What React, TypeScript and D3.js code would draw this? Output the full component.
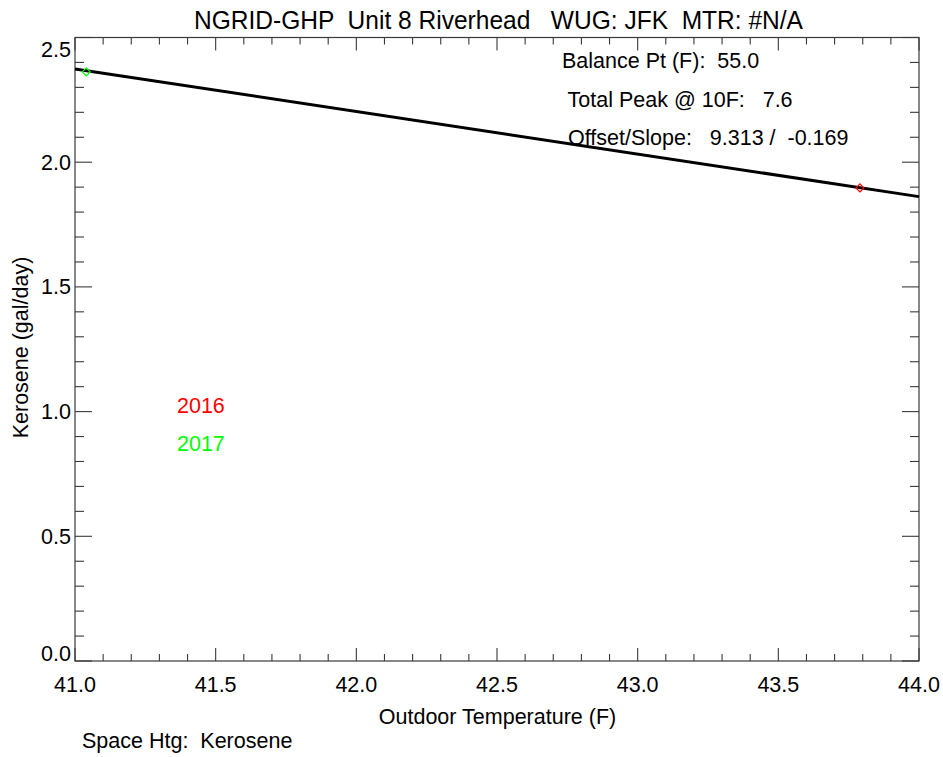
import React from "react";
import * as d3 from "d3";

const titleText = "NGRID-GHP  Unit 8 Riverhead   WUG: JFK  MTR: #N/A";
const xLabel = "Outdoor Temperature (F)";
const yLabel = "Kerosene (gal/day)";
const footText = "Space Htg:  Kerosene";
const statLines = ["Balance Pt (F):  55.0", " Total Peak @ 10F:   7.6", " Offset/Slope:   9.313 /  -0.169"];

const xDomain = [41.0, 44.0];
const yDomain = [0.0, 2.5];
const xMajorTicks = [41.0, 41.5, 42.0, 42.5, 43.0, 43.5, 44.0];
const yMajorTicks = [0.0, 0.5, 1.0, 1.5, 2.0, 2.5];

const years = ["2016", "2017"];
const yearColors = ["#ff0000", "#00ff00"];
const pointTemps = [43.79, 41.04];
const pointValues = [1.897, 2.362];

const fitTemps = [41.0, 44.0];
const fitValues = [2.374, 1.862];

const W = 943, H = 757;
const L = 75, R = 919, T = 37.5, B = 661;
const FONT = "'Liberation Sans', Arial, Helvetica, sans-serif";
const FS = 21.5;

export default function App() {
  const x = d3.scaleLinear().domain(xDomain).range([L, R]);
  const y = d3.scaleLinear().domain(yDomain).range([B, T]);
  const xMinor = d3.range(0, 31).map((i) => xDomain[0] + i * 0.1);
  const yMinor = d3.range(0, 26).map((i) => yDomain[0] + i * 0.1);
  const isMajor = (v: number) => Math.abs(v * 2 - Math.round(v * 2)) < 1e-6;
  const line = d3.line<number>().x((_, i) => x(fitTemps[i])).y((d) => y(d));
  const axisColor = "#3a3a3a";
  const diamond = (cx: number, cy: number, r: number) =>
    `M${cx},${cy - r}L${cx + r},${cy}L${cx},${cy + r}L${cx - r},${cy}Z`;

  return (
    <svg width={W} height={H} style={{ position: "absolute", left: 0, top: 0, background: "#fff" }} fontFamily={FONT}>
      <rect x={0} y={0} width={W} height={H} fill="#fff" />
      <text x={498.5} y={29} textAnchor="middle" fontSize={26} style={{ whiteSpace: "pre" }} textLength={609} lengthAdjust="spacingAndGlyphs">{titleText}</text>
      {/* frame */}
      <rect x={L} y={T} width={R - L} height={B - T} fill="none" stroke={axisColor} strokeWidth={1.2} />
      {/* x ticks */}
      {xMinor.map((v, i) => {
        const len = isMajor(v) ? 13 : 7;
        return (
          <g key={"xt" + i}>
            <line x1={x(v)} x2={x(v)} y1={B} y2={B - len} stroke={axisColor} strokeWidth={1.1} />
            <line x1={x(v)} x2={x(v)} y1={T} y2={T + len} stroke={axisColor} strokeWidth={1.1} />
          </g>
        );
      })}
      {yMinor.map((v, i) => {
        const len = isMajor(v) ? 17 : 9;
        return (
          <g key={"yt" + i}>
            <line x1={L} x2={L + len} y1={y(v)} y2={y(v)} stroke={axisColor} strokeWidth={1.1} />
            <line x1={R} x2={R - len} y1={y(v)} y2={y(v)} stroke={axisColor} strokeWidth={1.1} />
          </g>
        );
      })}
      {xMajorTicks.map((v, i) => (
        <text key={"xl" + i} x={x(v)} y={692} textAnchor="middle" fontSize={FS}>{v.toFixed(1)}</text>
      ))}
      {yMajorTicks.map((v, i) => {
        let dy = 7.5;
        if (i === 0) dy = -0.5;
        if (i === yMajorTicks.length - 1) dy = 19;
        return (
          <text key={"yl" + i} x={71} y={y(v) + dy} textAnchor="end" fontSize={FS}>{v.toFixed(1)}</text>
        );
      })}
      <text x={497.5} y={724} textAnchor="middle" fontSize={FS}>{xLabel}</text>
      <text transform={`translate(28,347.5) rotate(-90)`} textAnchor="middle" fontSize={FS}>{yLabel}</text>
      <text x={82} y={748} fontSize={FS} style={{ whiteSpace: "pre" }}>{footText}</text>
      {/* fit line */}
      <path d={line(fitValues) || ""} fill="none" stroke="#000" strokeWidth={3} />
      {/* points */}
      {pointTemps.map((t, i) => (
        <path key={"p" + i} d={diamond(x(t), y(pointValues[i]), 4)} fill="none" stroke={yearColors[i]} strokeWidth={1.2} />
      ))}
      {/* legend */}
      {years.map((yr, i) => (
        <text key={"lg" + i} x={177} y={412.5 + i * 38.5} fontSize={FS} fill={yearColors[i]}>{yr}</text>
      ))}
      {statLines.map((s, i) => (
        <text key={"st" + i} x={562} y={68 + i * 38.5} fontSize={FS} style={{ whiteSpace: "pre" }}>{s}</text>
      ))}
    </svg>
  );
}
